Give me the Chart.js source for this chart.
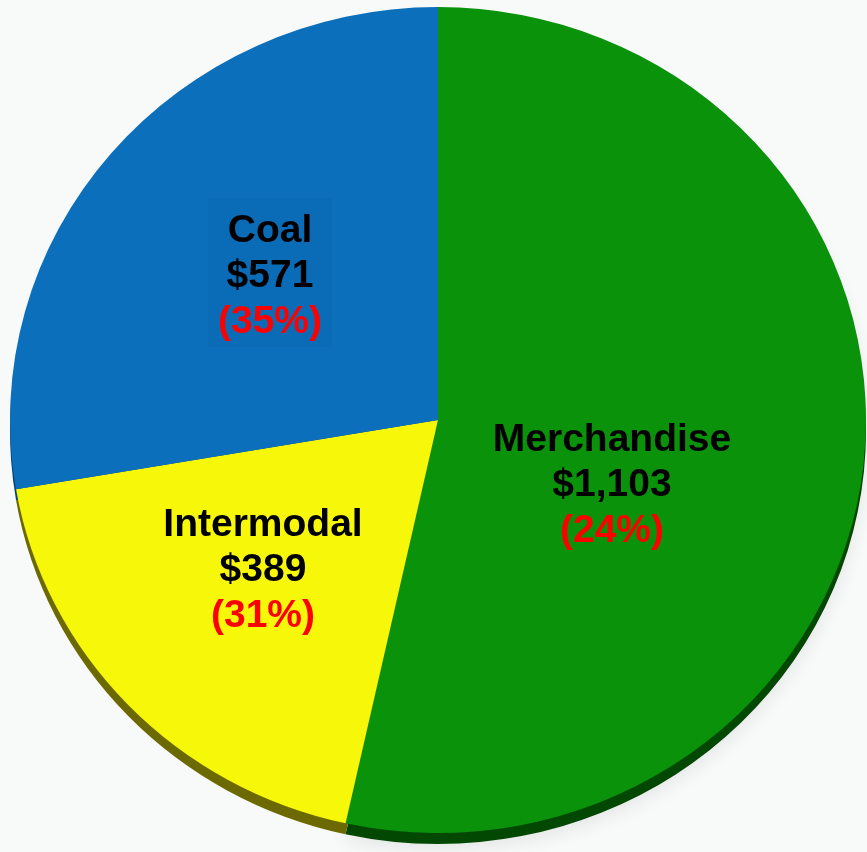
<!DOCTYPE html>
<html>
<head>
<meta charset="utf-8">
<script src="https://cdn.jsdelivr.net/npm/chart.js@4"></script>
<style>
  html, body { margin: 0; padding: 0; background: #f8f9f9; }
  #wrap { width: 867px; height: 852px; position: relative; }
</style>
</head>
<body>
<div id="wrap"><canvas id="pie"></canvas></div>
<script>
// data
const categories = ['Merchandise', 'Intermodal', 'Coal'];
const revenue = [1103, 389, 571];
const growth = ['(24%)', '(31%)', '(35%)'];

// styles
const faceColors = ['#0a920a', '#f7f70a', '#0b6fbb'];
const edgeColors = ['#024702', '#6c6900', '#074678'];
// label anchors (centre x, baseline of first line)
const labelPos = [[612, 451], [263, 536], [270, 242]];

const ELL = { cx: 438, cy: 420, rx: 428, ry: 413, depth: 11 };

const tiltPlugin = {
    id: 'tilt',
    beforeDatasetsDraw(chart) {
        const ctx = chart.ctx;
        const meta = chart.getDatasetMeta(0);
        const a0 = meta.data[0];
        const r = a0.outerRadius;
        ctx.save();
        ctx.translate(ELL.cx, ELL.cy);
        ctx.scale(ELL.rx / r, ELL.ry / r);
        ctx.translate(-a0.x, -a0.y);

        // soft shadow + side of the disc
        const d = ELL.depth * r / ELL.ry;
        meta.data.forEach((arc, i) => {
            ctx.save();
            if (i === 0) {
                ctx.shadowColor = 'rgba(0,0,0,0.08)';
                ctx.shadowBlur = 18;
                ctx.shadowOffsetY = 6;
            }
            ctx.beginPath();
            ctx.moveTo(arc.x, arc.y + d);
            ctx.arc(arc.x, arc.y + d, arc.outerRadius, arc.startAngle, arc.endAngle);
            ctx.closePath();
            ctx.fillStyle = edgeColors[i];
            ctx.fill();
            ctx.restore();
        });
    },
    afterDatasetsDraw(chart) {
        chart.ctx.restore();
    },
    afterDraw(chart) {
        const ctx = chart.ctx;
        ctx.save();
        // darker box behind the coal label
        ctx.fillStyle = '#0a6cb7';
        ctx.fillRect(208, 198, 124, 149);

        ctx.textAlign = 'center';
        ctx.textBaseline = 'alphabetic';
        ctx.font = 'bold 39px "Liberation Sans", Arial, sans-serif';
        categories.forEach((name, i) => {
            const [x, y] = labelPos[i];
            ctx.fillStyle = '#000000';
            ctx.fillText(name, x, y);
            ctx.fillText('$' + revenue[i].toLocaleString('en-US'), x, y + 45);
            ctx.fillStyle = '#ff0000';
            ctx.fillText(growth[i], x, y + 91);
        });
        ctx.restore();
    }
};

new Chart(document.getElementById('pie'), {
    type: 'pie',
    data: {
        labels: categories,
        datasets: [{
            data: revenue,
            backgroundColor: faceColors,
            borderWidth: 0
        }]
    },
    options: {
        responsive: true,
        maintainAspectRatio: false,
        devicePixelRatio: 1,
        animation: false,
        layout: { padding: 0 },
        plugins: {
            legend: { display: false },
            tooltip: { enabled: false }
        }
    },
    plugins: [tiltPlugin]
});
</script>
</body>
</html>
